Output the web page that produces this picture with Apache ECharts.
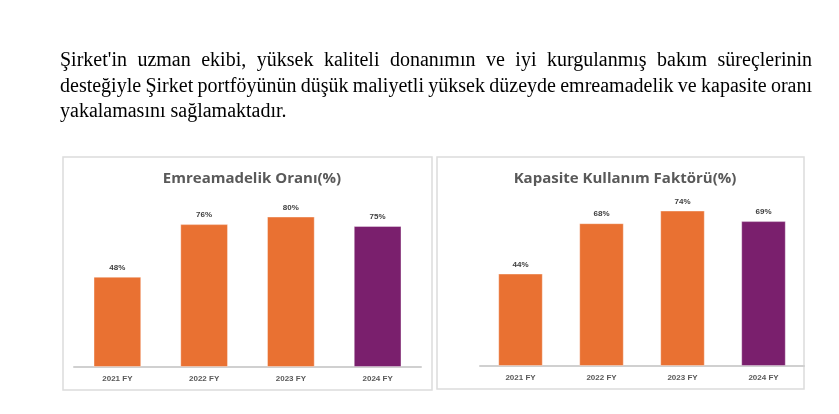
<!DOCTYPE html>
<html>
<head>
<meta charset="utf-8">
<script src="https://cdn.jsdelivr.net/npm/echarts@6/dist/echarts.min.js"></script>
<style>
  html, body { margin: 0; padding: 0; background: #fff; }
  #wrap { position: relative; width: 839px; height: 414px; overflow: hidden; }
  #chart { position: absolute; left: 0; top: 0; width: 839px; height: 414px; }
  #para {
    position: absolute; left: 60px; top: 47px; width: 752px;
    font-family: "Liberation Serif", serif; font-size: 20px; line-height: 25.5px;
    color: #000;
  }
  #para div { white-space: nowrap; }
  #para .just { text-align: justify; text-align-last: justify; }
  #para .tight { word-spacing: -1.2px; }
</style>
</head>
<body>
<div id="wrap">
  <div id="chart"></div>
  <div id="para">
    <div class="just">Şirket'in uzman ekibi, yüksek kaliteli donanımın ve iyi kurgulanmış bakım süreçlerinin</div>
    <div class="just tight">desteğiyle Şirket portföyünün düşük maliyetli yüksek düzeyde emreamadelik ve kapasite oranı</div>
    <div>yakalamasını sağlamaktadır.</div>
  </div>
</div>
<script>
const categories = ['2021 FY', '2022 FY', '2023 FY', '2024 FY']
const availability = [48, 76, 80, 75]
const capacityFactor = [44, 68, 74, 69]
const titles = ['Emreamadelik Oranı(%)', 'Kapasite Kullanım Faktörü(%)']

const ORANGE = '#E97132'
const PURPLE = '#7A1F6D'

const chart = echarts.init(document.getElementById('chart'))

function barData (values) {
  return values.map((v, i) => ({
    value: v,
    itemStyle: { color: i === values.length - 1 ? PURPLE : ORANGE }
  }))
}

function xAxisFor (gridIndex) {
  return {
    type: 'category',
    gridIndex: gridIndex,
    data: categories,
    axisTick: { show: false },
    axisLine: { lineStyle: { color: '#d0d0d0', width: 2 } },
    axisLabel: {
      margin: 8,
      color: '#595959',
      fontFamily: 'Liberation Sans',
      fontWeight: 'bold',
      fontSize: 8
    }
  }
}

function yAxisFor (gridIndex) {
  return {
    type: 'value',
    gridIndex: gridIndex,
    min: 0,
    max: 100,
    show: false,
    splitLine: { show: false }
  }
}

function seriesFor (index, values) {
  return {
    type: 'bar',
    xAxisIndex: index,
    yAxisIndex: index,
    barWidth: '55%',
    data: barData(values),
    itemStyle: { borderColor: 'rgba(255,255,255,0.35)', borderWidth: 1 },
    label: {
      show: true,
      position: 'top',
      distance: 5,
      formatter: '{c}%',
      color: '#404040',
      fontFamily: 'Liberation Sans',
      fontWeight: 'bold',
      fontSize: 8
    }
  }
}

const titleStyle = {
  color: '#595959',
  fontFamily: 'Open Sans',
  fontWeight: 'bold',
  fontSize: 15
}

chart.setOption({
  animation: false,
  title: [
    { text: titles[0], left: 247, top: 166, textAlign: 'center', textStyle: titleStyle },
    { text: titles[1], left: 620, top: 166, textAlign: 'center', textStyle: titleStyle }
  ],
  graphic: [
    {
      type: 'rect',
      shape: { x: 63, y: 157, width: 369, height: 233 },
      style: { fill: 'none', stroke: '#dcdcdc', lineWidth: 1.5 },
      z: -1
    },
    {
      type: 'rect',
      shape: { x: 437, y: 157, width: 367, height: 232 },
      style: { fill: 'none', stroke: '#dcdcdc', lineWidth: 1.5 },
      z: -1
    }
  ],
  grid: [
    { left: 74, top: 179, width: 347, height: 188 },
    { left: 480, top: 156, width: 324, height: 210 }
  ],
  xAxis: [xAxisFor(0), xAxisFor(1)],
  yAxis: [yAxisFor(0), yAxisFor(1)],
  series: [seriesFor(0, availability), seriesFor(1, capacityFactor)]
})
</script>
</body>
</html>
